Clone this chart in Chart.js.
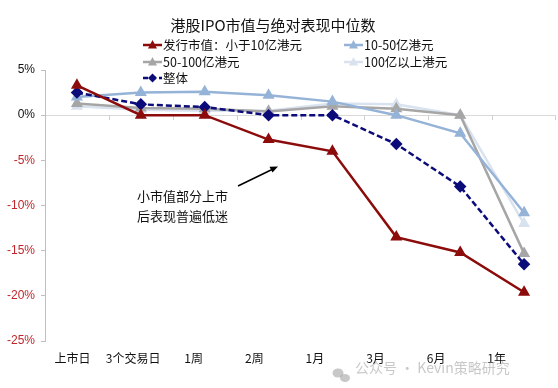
<!DOCTYPE html>
<html>
<head>
<meta charset="utf-8">
<script src="https://cdn.jsdelivr.net/npm/chart.js@4.4.0/dist/chart.umd.min.js"></script>
<style>
  html, body { margin: 0; padding: 0; background: #fff; overflow: hidden; }
  #wrap { width: 563px; height: 388px; }
</style>
</head>
<body>
<div id="wrap"><canvas id="lineChart" width="563" height="388"></canvas></div>
<script>
// categories and series (median return, %)
var periods = ['上市日', '3个交易日', '1周', '2周', '1月', '3月', '6月', '1年'];
var seriesNames = ['发行市值：小于10亿港元', '10-50亿港元', '50-100亿港元', '100亿以上港元', '整体'];
var small = [3.3, 0.0, 0.0, -2.7, -4.0, -13.5, -15.2, -19.6];
var mid = [2.0, 2.5, 2.6, 2.2, 1.5, 0.0, -2.0, -10.8];
var large = [1.3, 0.8, 0.7, 0.4, 1.0, 0.7, 0.0, -15.3];
var huge = [1.0, 0.6, 0.5, 0.5, 1.3, 1.2, 0.0, -12.0];
var overall = [2.5, 1.2, 0.9, 0.0, 0.0, -3.2, -7.9, -16.5];
var yTicks = [5, 0, -5, -10, -15, -20, -25];

var FONT = "'Liberation Sans', Arial, 'Noto Sans CJK SC', sans-serif";
var CJK = "'Noto Sans CJK SC', sans-serif";
var colors = ['#8c0b0b', '#95b3d7', '#a6a6a6', '#d9e2ef', '#0b0b7a'];

function makeSet(i, data, style, dash) {
  return {
    label: seriesNames[i],
    data: data,
    borderColor: colors[i],
    backgroundColor: colors[i],
    pointBackgroundColor: colors[i],
    pointBorderColor: colors[i],
    borderWidth: 2.5,
    borderDash: dash || [],
    pointStyle: style,
    pointRadius: style === 'rectRot' ? 4.5 : 4.5,
    tension: 0,
    fill: false
  };
}

var datasets = [
  makeSet(0, small, 'triangle'),
  makeSet(4, overall, 'rectRot', [6, 3]),
  makeSet(1, mid, 'triangle'),
  makeSet(2, large, 'triangle'),
  makeSet(3, huge, 'triangle')
];

// legend layout: [series index, x of icon, y]
var legendSlots = [[0, 143, 45], [1, 344, 45], [2, 143, 62], [3, 344, 62], [4, 143, 78]];

var extras = {
  id: 'extras',
  beforeDatasetsDraw: function (chart) {
    var ctx = chart.ctx, xs = chart.scales.x, ys = chart.scales.y;
    var y0 = ys.getPixelForValue(0);
    ctx.save();
    ctx.strokeStyle = '#d0d0d0';
    ctx.lineWidth = 1;
    for (var i = 0; i < periods.length; i++) {
      var bx = Math.round((xs.getPixelForValue(i) + xs.getPixelForValue(i + 1)) / 2) + 0.5;
      if (i === periods.length - 1) bx = chart.chartArea.right - 0.5;
      ctx.beginPath();
      ctx.moveTo(bx, y0);
      ctx.lineTo(bx, y0 + 5);
      ctx.stroke();
    }
    ctx.restore();
  },
  afterDraw: function (chart) {
    var ctx = chart.ctx;
    ctx.save();
    // title
    ctx.fillStyle = '#111';
    ctx.font = "15px " + CJK;
    ctx.textAlign = 'center';
    ctx.textBaseline = 'middle';
    ctx.fillText('港股IPO市值与绝对表现中位数', 273, 25);

    // category labels (spaced a little tighter than the points, as in the source picture)
    ctx.font = "12px " + CJK;
    periods.forEach(function (p, i) {
      ctx.fillText(p, 72.5 + i * 60.6, 358);
    });

    // legend
    ctx.font = "12.5px " + CJK;
    ctx.textAlign = 'left';
    legendSlots.forEach(function (s) {
      var i = s[0], x = s[1], y = s[2];
      ctx.strokeStyle = colors[i];
      ctx.fillStyle = colors[i];
      ctx.lineWidth = 2.5;
      ctx.setLineDash(i === 4 ? [5, 3] : []);
      ctx.beginPath();
      ctx.moveTo(x, y);
      ctx.lineTo(x + 19, y);
      ctx.stroke();
      ctx.setLineDash([]);
      ctx.beginPath();
      if (i === 4) {
        ctx.moveTo(x + 9.5, y - 4.5); ctx.lineTo(x + 14, y); ctx.lineTo(x + 9.5, y + 4.5); ctx.lineTo(x + 5, y);
      } else {
        ctx.moveTo(x + 9.5, y - 5); ctx.lineTo(x + 14, y + 3.5); ctx.lineTo(x + 5, y + 3.5);
      }
      ctx.closePath();
      ctx.fill();
      ctx.fillStyle = '#111';
      ctx.fillText(seriesNames[i], x + 20, y);
    });

    // annotation
    ctx.fillStyle = '#111';
    ctx.font = "13px " + CJK;
    ctx.fillText('小市值部分上市', 137, 196);
    ctx.fillText('后表现普遍低迷', 137, 216);
    ctx.strokeStyle = '#000';
    ctx.fillStyle = '#000';
    ctx.lineWidth = 1.5;
    ctx.beginPath();
    ctx.moveTo(238, 186);
    ctx.lineTo(272, 169.5);
    ctx.stroke();
    ctx.beginPath();
    ctx.moveTo(278, 166.5);
    ctx.lineTo(269.5, 166.8);
    ctx.lineTo(272.5, 172.6);
    ctx.closePath();
    ctx.fill();

    // watermark
    ctx.globalAlpha = 0.55;
    ctx.fillStyle = '#9a9a9a';
    ctx.beginPath();
    ctx.ellipse(338, 373, 5.5, 4.5, 0, 0, Math.PI * 2);
    ctx.fill();
    ctx.beginPath();
    ctx.ellipse(345, 378, 5, 4, 0, 0, Math.PI * 2);
    ctx.fill();
    ctx.font = "14px " + CJK;
    ctx.fillText('公众号 · Kevin策略研究', 355, 368);
    ctx.restore();
  }
};

var chart = new Chart(document.getElementById('lineChart').getContext('2d'), {
  type: 'line',
  data: { labels: periods, datasets: datasets },
  options: {
    responsive: false,
    animation: false,
    devicePixelRatio: 1,
    layout: { padding: { top: 70, right: 0, bottom: 0, left: 0 } },
    plugins: { legend: { display: false }, title: { display: false }, tooltip: { enabled: false } },
    scales: {
      x: {
        type: 'category',
        offset: true,
        grid: { display: false, drawTicks: false },
        border: { display: false },
        ticks: { display: false },
        afterFit: function (s) { s.height = 47; }
      },
      y: {
        min: -25,
        max: 5,
        afterBuildTicks: function (s) { s.ticks = yTicks.map(function (v) { return { value: v }; }); },
        grid: {
          color: function (c) { return c.tick && c.tick.value === 0 ? '#d9d9d9' : 'rgba(0,0,0,0)'; },
          tickColor: '#bfbfbf',
          tickLength: 4,
          lineWidth: 1
        },
        border: { display: true, color: '#bfbfbf', width: 1 },
        ticks: {
          padding: 6,
          font: { size: 12, family: FONT },
          color: function (c) { return c.tick.value < 0 ? '#c0262b' : '#111'; },
          callback: function (v) { return v + '%'; }
        },
        afterFit: function (s) { s.width = 45; }
      }
    }
  },
  plugins: [extras]
});
</script>
</body>
</html>
